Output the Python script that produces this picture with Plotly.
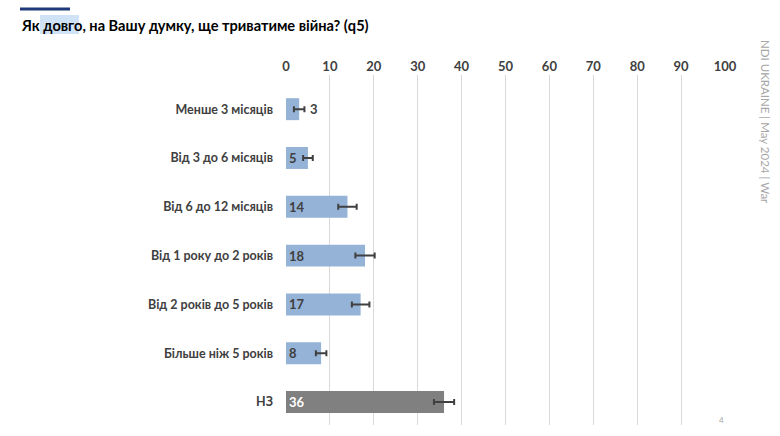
import plotly.graph_objects as go

categories = ["Менше 3 місяців", "Від 3 до 6 місяців", "Від 6 до 12 місяців",
              "Від 1 року до 2 років", "Від 2 років до 5 років", "Більше ніж 5 років", "НЗ"]
values = [3, 5, 14, 18, 17, 8, 36]
errors = [1.2, 1.1, 2.1, 2.2, 2.0, 1.2, 2.3]
bar_colors = ["#95B3D7"] * 6 + ["#808080"]
label_colors = ["#404040"] * 6 + ["#FFFFFF"]
x_ticks = [0, 10, 20, 30, 40, 50, 60, 70, 80, 90, 100]

W, H = 780, 436
L, R, T, B = 286, 55, 75, 11
pw = W - L - R
ph = H - T - B

def px_x(p):
    return (p - L) / pw

def px_y(p):
    return 1 - (p - T) / ph

FONT = "Lato"

positions = ["none"] + ["inside"] * 6

fig = go.Figure()
fig.add_trace(go.Bar(
    y=categories, x=values, orientation="h",
    marker=dict(color=bar_colors, line=dict(width=0)),
    width=0.45,
    error_x=dict(type="data", array=errors, color="#404040", thickness=2, width=3),
    text=[str(v) for v in values],
    textposition=positions,
    textangle=0,
    insidetextanchor="start",
    textfont=dict(family=FONT, size=13, color=label_colors, weight="bold"),
    constraintext="none",
    hoverinfo="skip",
))

# outside label for small bar
fig.add_annotation(x=values[0] + errors[0], y=categories[0], xref="x", yref="y",
                   text=str(values[0]), showarrow=False, xanchor="left", xshift=4,
                   font=dict(family=FONT, size=13, color="#404040", weight="bold"))

fig.update_layout(
    width=W, height=H,
    margin=dict(l=L, r=R, t=T, b=B),
    paper_bgcolor="white", plot_bgcolor="white",
    showlegend=False,
    xaxis=dict(range=[0, 100], side="top", tickvals=x_ticks, ticks="",
               showgrid=True, gridcolor="#D9D9D9", gridwidth=1, zeroline=False,
               showline=False, fixedrange=True,
               tickfont=dict(family=FONT, size=13, color="#404040", weight="bold")),
    yaxis=dict(type="category", range=[6.47, -0.70], showgrid=False, zeroline=False,
               showline=False, ticks="", ticklabelstandoff=12,
               tickfont=dict(family=FONT, size=12.5, color="#404040", weight="bold")),
    font=dict(family=FONT),
    shapes=[
        dict(type="rect", xref="paper", yref="paper",
             x0=px_x(20), x1=px_x(70), y0=px_y(10.5), y1=px_y(7.5),
             fillcolor="#1F3A7A", line=dict(width=0), layer="above"),
        dict(type="rect", xref="paper", yref="paper",
             x0=px_x(40), x1=px_x(79), y0=px_y(34), y1=px_y(15),
             fillcolor="#CFE2F6", line=dict(width=0), layer="below"),
    ],
)

fig.add_annotation(xref="paper", yref="paper", x=px_x(19), y=px_y(25),
                   text="Як довго, на Вашу думку, ще триватиме війна? (q5)",
                   showarrow=False, xanchor="left", yanchor="middle",
                   font=dict(family=FONT, size=14.6, color="#000000", weight="bold"))

fig.add_annotation(xref="paper", yref="paper", x=px_x(766), y=px_y(38),
                   text="NDI UKRAINE | May 2024 | War", textangle=90,
                   showarrow=False, xanchor="center", yanchor="top",
                   font=dict(family=FONT, size=11.5, color="#A6A6A6"))

fig.add_annotation(xref="paper", yref="paper", x=px_x(721), y=px_y(420),
                   text="4", showarrow=False, xanchor="center", yanchor="middle",
                   font=dict(family=FONT, size=8, color="#A6A6A6"))

fig.write_html("out.html")
